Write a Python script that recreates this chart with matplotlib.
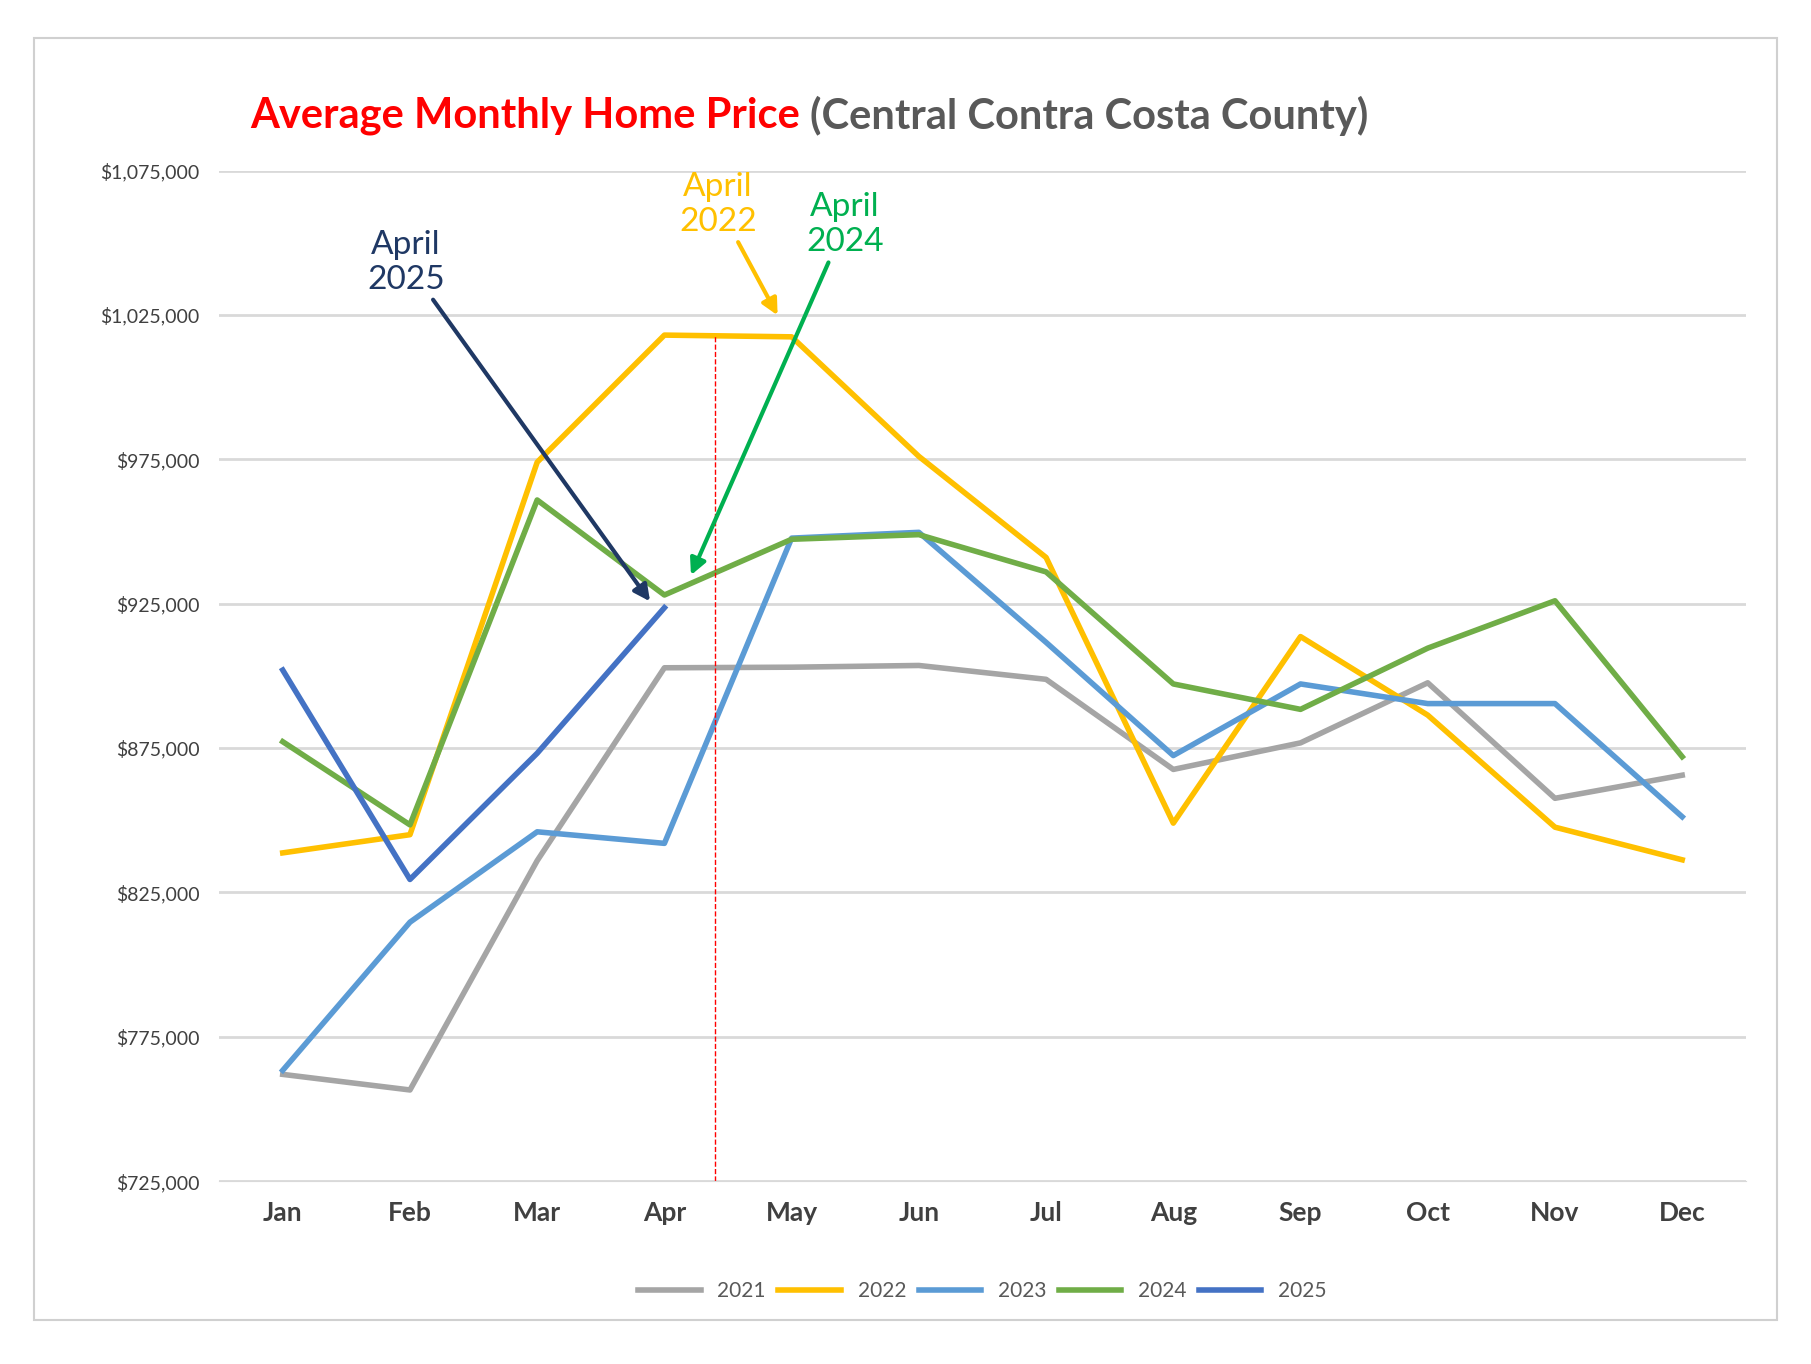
import numpy as np
import matplotlib.pyplot as plt
from matplotlib.patches import Rectangle

plt.rcParams['font.family'] = ['Lato', 'DejaVu Sans']

months = ["Jan", "Feb", "Mar", "Apr", "May", "Jun", "Jul", "Aug", "Sep", "Oct", "Nov", "Dec"]
y2021 = [762000, 756600, 836000, 902800, 903000, 903600, 898800, 867600, 876800, 897600, 857600, 865600]
y2022 = [838700, 845000, 974000, 1018000, 1017400, 976000, 941000, 849000, 913600, 886400, 847600, 836300]
y2023 = [763400, 814700, 846000, 842000, 947700, 949700, 911600, 872400, 897200, 890400, 890400, 851200]
y2024 = [877200, 848400, 960900, 928000, 947300, 948900, 936000, 897200, 888400, 909600, 926000, 872000]
y2025 = [902000, 829500, 873200, 923600]
yticks = np.arange(725000, 1075001, 50000)


def main() -> None:
    fig = plt.figure(figsize=(18.11, 13.64), dpi=100)
    fig.patches.append(Rectangle((0.019, 0.032), 0.962, 0.94, transform=fig.transFigure,
                                 fill=False, edgecolor="#d0d0d0", lw=1.5))
    ax = fig.add_axes([0.121, 0.134, 0.843, 0.741])

    x = np.arange(len(months))
    ax.plot(x, y2021, color="#A5A5A5", lw=4, label="2021")
    ax.plot(x, y2022, color="#FFC000", lw=4, label="2022")
    ax.plot(x, y2023, color="#5B9BD5", lw=4, label="2023")
    ax.plot(x, y2024, color="#70AD47", lw=4, label="2024")
    ax.plot(x[:len(y2025)], y2025, color="#4472C4", lw=4, label="2025")
    ax.vlines(3.4, 725000, 1018000, colors="red", linestyles="--", lw=1)

    ax.set_xlim(-0.5, 11.5)
    ax.set_ylim(725000, 1075000)
    ax.set_yticks(yticks)
    ax.set_yticklabels([f"${v:,.0f}" for v in yticks], fontsize=14, color="#404040")
    ax.set_xticks(x)
    ax.set_xticklabels(months, fontsize=19, fontweight="bold", color="#404040")
    ax.grid(axis="y", color="#d9d9d9", lw=2)
    ax.set_axisbelow(True)
    for s in ["top", "right", "left"]:
        ax.spines[s].set_visible(False)
    ax.spines["bottom"].set_color("#d9d9d9")
    ax.tick_params(length=0, pad=14)

    # annotations
    ax.annotate("April\n2025", xy=(2.9, 925000), xytext=(0.97, 1032000), ha="center", va="bottom",
                fontsize=24, color="#1F3864",
                arrowprops=dict(arrowstyle="-|>", color="#1F3864", lw=3))
    ax.annotate("April\n2022", xy=(3.9, 1024000), xytext=(3.42, 1052000), ha="center", va="bottom",
                fontsize=24, color="#FFC000",
                arrowprops=dict(arrowstyle="-|>", color="#FFC000", lw=3))
    ax.annotate("April\n2024", xy=(3.2, 934000), xytext=(4.42, 1045000), ha="center", va="bottom",
                fontsize=24, color="#00B050",
                arrowprops=dict(arrowstyle="-|>", color="#00B050", lw=3))

    t1 = fig.text(0.138, 0.915, "Average Monthly Home Price ", ha="left", va="center",
                  fontsize=30, fontweight="bold", color="red")
    fig.canvas.draw()
    bb = t1.get_window_extent().transformed(fig.transFigure.inverted())
    fig.text(bb.x1, 0.915, "(Central Contra Costa County)", ha="left", va="center",
             fontsize=30, fontweight="bold", color="#595959")

    ax.legend(loc="upper center", bbox_to_anchor=(0.5, -0.08), ncol=5, frameon=False,
              fontsize=15, handlelength=3, labelcolor="#595959", columnspacing=0.6)

    fig.savefig("out.png")


if __name__ == "__main__":
    main()
